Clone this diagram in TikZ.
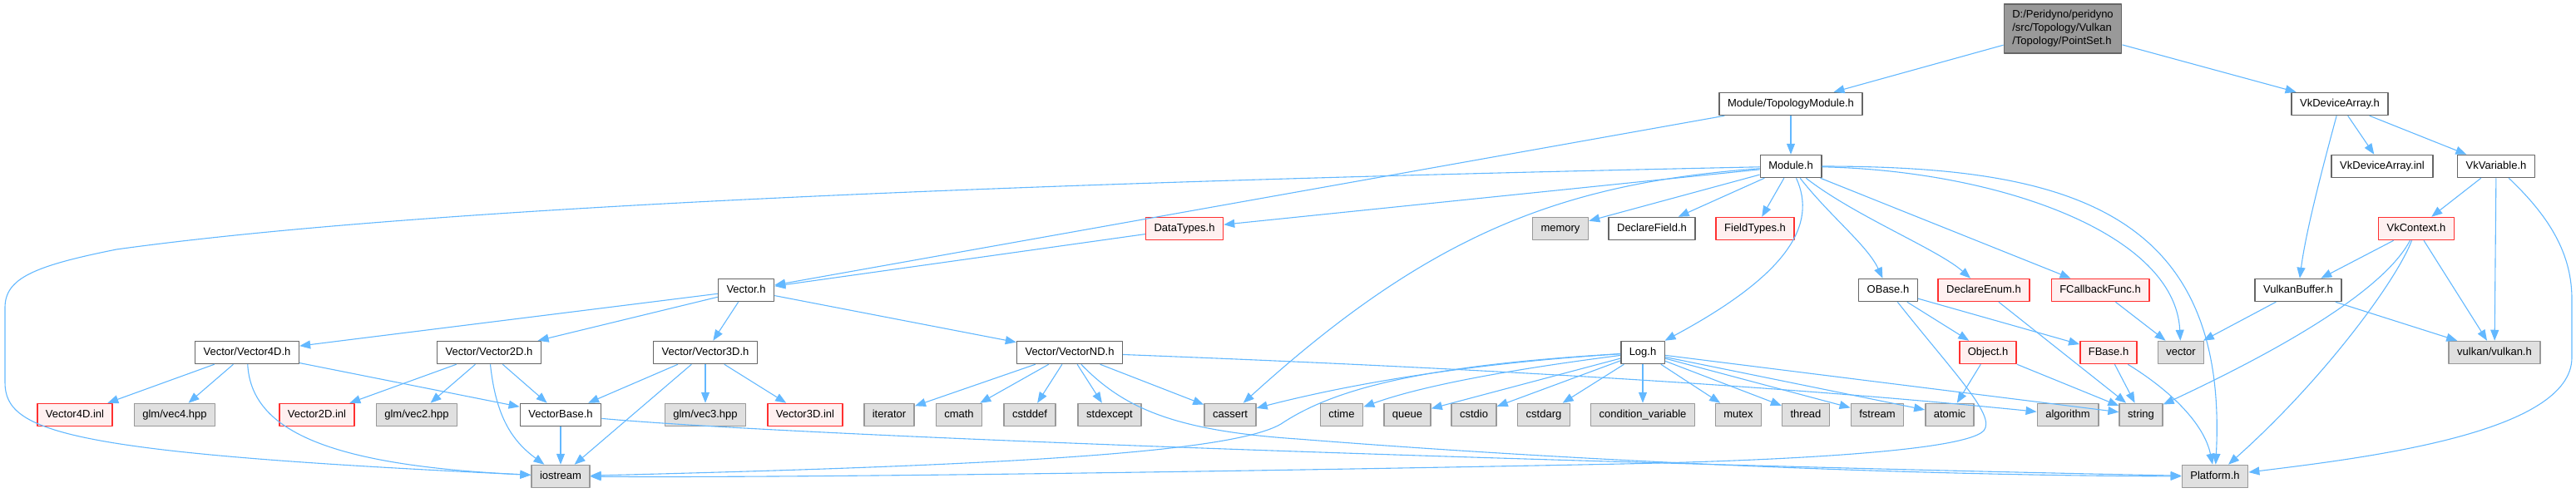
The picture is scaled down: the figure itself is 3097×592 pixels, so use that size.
\documentclass[tikz,border=0pt]{standalone}
\usepackage{fontspec}
\setmainfont{Liberation Sans}
\usetikzlibrary{arrows.meta}
\definecolor{xanhcanh}{HTML}{63B8FF}
\definecolor{vienxam}{HTML}{666666}
\definecolor{vienxamnhat}{HTML}{999999}
\definecolor{nenxam}{HTML}{E0E0E0}
\definecolor{viendo}{HTML}{FF3030}
\definecolor{nendo}{HTML}{FFF0F0}
\begin{document}
\begin{tikzpicture}[
	% Các kiểu dáng dùng chung
	tep/.style={draw=vienxam, fill=white, line width=1.5pt, minimum height=27pt, inner xsep=10pt, inner ysep=0pt, text height=9.5pt, text depth=2.8pt}, % tệp thường
	tepxam/.style={tep, draw=vienxamnhat, fill=nenxam}, % tệp hệ thống
	tepdo/.style={tep, draw=viendo, fill=nendo}, % tệp có đồ thị bị cắt
	tepgoc/.style={tep, fill=vienxamnhat, minimum height=59pt, align=left, text height=, text depth=}, % tệp gốc
	canh/.style={draw=xanhcanh, line width=1.1pt, -{Triangle[length=13pt,width=10pt]}}, % mũi tên include
	x=1pt,y=-1pt,font=\fontsize{13}{16}\selectfont,line join=round]
	\useasboundingbox (0,0) rectangle (3097,592);

	% Hàng 0 - 2
	\node[tepgoc] (ps) at (2480,34.5) {D:/Peridyno/peridyno\\/src/Topology/Vulkan\\/Topology/PointSet.h};
	\node[tep] (tm) at (2153,125) {Module/TopologyModule.h};
	\node[tep] (vda) at (2813,125) {VkDeviceArray.h};
	\node[tep] (mod) at (2153,200) {Module.h};
	\node[tep] (vdi) at (2864,200) {VkDeviceArray.inl};
	\node[tep] (vvar) at (3001,200) {VkVariable.h};

	% Hàng 3 - 4
	\node[tepdo] (dt) at (1424,275) {DataTypes.h};
	\node[tepxam] (mem) at (1876,275) {memory};
	\node[tep] (df) at (1986,275) {DeclareField.h};
	\node[tepdo] (ft) at (2110,275) {FieldTypes.h};
	\node[tepdo] (vctx) at (2905,275) {VkContext.h};
	\node[tep] (vec) at (897,349) {Vector.h};
	\node[tep] (ob) at (2270,349) {OBase.h};
	\node[tepdo] (de) at (2385,349) {DeclareEnum.h};
	\node[tepdo] (fcb) at (2525,349) {FCallbackFunc.h};
	\node[tep] (vkb) at (2763,349) {VulkanBuffer.h};

	% Hàng 5
	\node[tep] (v4) at (297,424) {Vector/Vector4D.h};
	\node[tep] (v2) at (588,424) {Vector/Vector2D.h};
	\node[tep] (v3) at (848,424) {Vector/Vector3D.h};
	\node[tep] (vnd) at (1286,424) {Vector/VectorND.h};
	\node[tep] (log) at (1975,424) {Log.h};
	\node[tepdo] (obj) at (2390,424) {Object.h};
	\node[tepdo] (fb) at (2535,424) {FBase.h};
	\node[tepxam] (svec) at (2622,424) {vector};
	\node[tepxam] (vk) at (2999,424) {vulkan/vulkan.h};

	% Hàng 6
	\node[tepdo] (v4i) at (90,499) {Vector4D.inl};
	\node[tepxam] (g4) at (210,499) {glm/vec4.hpp};
	\node[tepdo] (v2i) at (381,499) {Vector2D.inl};
	\node[tepxam] (g2) at (501,499) {glm/vec2.hpp};
	\node[tep] (vb) at (674,499) {VectorBase.h};
	\node[tepxam] (g3) at (848,499) {glm/vec3.hpp};
	\node[tepdo] (v3i) at (968,499) {Vector3D.inl};
	\node[tepxam] (it) at (1069,499) {iterator};
	\node[tepxam] (cm) at (1153,499) {cmath};
	\node[tepxam] (cd) at (1238,499) {cstddef};
	\node[tepxam] (se) at (1334,499) {stdexcept};
	\node[tepxam] (ca) at (1479,499) {cassert};
	\node[tepxam] (ct) at (1613,499) {ctime};
	\node[tepxam] (qu) at (1692,499) {queue};
	\node[tepxam] (cio) at (1772,499) {cstdio};
	\node[tepxam] (carg) at (1856,499) {cstdarg};
	\node[tepxam] (cv) at (1975,499) {condition\_variable};
	\node[tepxam] (mu) at (2090,499) {mutex};
	\node[tepxam] (th) at (2171,499) {thread};
	\node[tepxam] (fs) at (2257,499) {fstream};
	\node[tepxam] (atm) at (2344,499) {atomic};
	\node[tepxam] (al) at (2486,499) {algorithm};
	\node[tepxam] (str) at (2574,499) {string};

	% Hàng 7
	\node[tepxam] (ios) at (674,573) {iostream};
	\node[tepxam] (pf) at (2663,573) {Platform.h};

	% Các cạnh phía trên
	\draw[canh] (ps) -- (tm);
	\draw[canh] (ps) -- (vda);
	\draw[canh] (tm) -- (mod);
	\draw[canh] (tm) -- (vec);
	\draw[canh] (vda) -- (vdi);
	\draw[canh] (vda) -- (vvar);
	\draw[canh] (vda) .. controls (2790,210) and (2772,280) .. (vkb);
	\draw[canh] (vvar) -- (vctx);
	\draw[canh] (vvar) -- (vk);
	\draw[canh] (vvar) .. controls (3070,265) and (3092,310) .. (3092,360) -- (3092,430) .. controls (3092,520) and (2850,550) .. (pf);
	\draw[canh] (vctx) -- (vkb);
	\draw[canh] (vctx) -- (vk);
	\draw[canh] (vctx) .. controls (2880,340) and (2790,460) .. (pf);
	\draw[canh] (vctx) .. controls (2860,360) and (2700,440) .. (str);
	\draw[canh] (vkb) -- (svec);
	\draw[canh] (vkb) -- (vk);

	% Các cạnh từ Module.h
	\draw[canh] (mod) .. controls (1200,220) and (500,250) .. (140,300) .. controls (40,320) and (6,335) .. (6,370) -- (6,460) .. controls (6,520) and (80,545) .. (ios);
	\draw[canh] (mod) -- (dt);
	\draw[canh] (mod) .. controls (1880,220) and (1720,280) .. (ca);
	\draw[canh] (mod) -- (mem);
	\draw[canh] (mod) -- (df);
	\draw[canh] (mod) -- (ft);
	\draw[canh] (mod) .. controls (2185,270) and (2150,330) .. (log);
	\draw[canh] (mod) .. controls (2200,260) and (2245,295) .. (ob);
	\draw[canh] (mod) .. controls (2230,260) and (2330,300) .. (de);
	\draw[canh] (mod) -- (fcb);
	\draw[canh] (mod) .. controls (2400,205) and (2615,280) .. (svec);
	\draw[canh] (mod) .. controls (2480,200) and (2680,250) .. (pf);
	\draw[canh] (dt) -- (vec);

	% Các cạnh từ Vector.h
	\draw[canh] (vec) -- (v4);
	\draw[canh] (vec) -- (v2);
	\draw[canh] (vec) -- (v3);
	\draw[canh] (vec) -- (vnd);
	\draw[canh] (v4) -- (v4i);
	\draw[canh] (v4) -- (g4);
	\draw[canh] (v4) -- (vb);
	\draw[canh] (v4) .. controls (302,520) and (400,560) .. (ios);
	\draw[canh] (v2) -- (v2i);
	\draw[canh] (v2) -- (g2);
	\draw[canh] (v2) -- (vb);
	\draw[canh] (v2) .. controls (596,500) and (615,530) .. (ios);
	\draw[canh] (v3) -- (vb);
	\draw[canh] (v3) -- (ios);
	\draw[canh] (v3) -- (g3);
	\draw[canh] (v3) -- (v3i);
	\draw[canh] (vb) -- (ios);
	\draw[canh] (vb) .. controls (1000,528) and (2000,560) .. (pf);
	\draw[canh] (vnd) -- (it);
	\draw[canh] (vnd) -- (cm);
	\draw[canh] (vnd) -- (cd);
	\draw[canh] (vnd) -- (se);
	\draw[canh] (vnd) -- (ca);
	\draw[canh] (vnd) .. controls (1700,440) and (2100,460) .. (al);
	\draw[canh] (vnd) .. controls (1350,490) and (1410,518) .. (1560,528) .. controls (1900,555) and (2300,572) .. (pf);

	% Các cạnh từ Log.h
	\draw[canh] (log) .. controls (1800,435) and (1650,455) .. (ca);
	\draw[canh] (log) .. controls (1850,440) and (1720,460) .. (ct);
	\draw[canh] (log) -- (qu);
	\draw[canh] (log) -- (cio);
	\draw[canh] (log) -- (carg);
	\draw[canh] (log) -- (cv);
	\draw[canh] (log) -- (mu);
	\draw[canh] (log) -- (th);
	\draw[canh] (log) -- (fs);
	\draw[canh] (log) -- (atm);
	\draw[canh] (log) -- (str);
	\draw[canh] (log) .. controls (1700,440) and (1600,470) .. (1540,510) .. controls (1480,545) and (1200,560) .. (ios);

	% Các cạnh còn lại
	\draw[canh] (ob) -- (obj);
	\draw[canh] (ob) -- (fb);
	\draw[canh] (ob) .. controls (2350,450) and (2400,500) .. (2385,518) .. controls (2360,545) and (2100,555) .. (1950,558) .. controls (1600,565) and (1000,575) .. (ios);
	\draw[canh] (obj) -- (atm);
	\draw[canh] (obj) -- (str);
	\draw[canh] (de) -- (str);
	\draw[canh] (fcb) -- (svec);
	\draw[canh] (fb) -- (str);
	\draw[canh] (fb) .. controls (2610,470) and (2650,510) .. (pf);
\end{tikzpicture}
\end{document}
